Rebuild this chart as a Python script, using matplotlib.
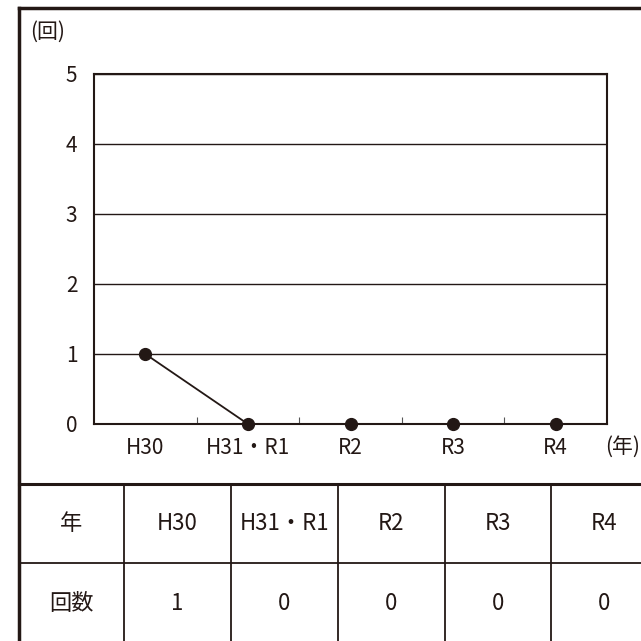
import matplotlib.pyplot as plt
from matplotlib.lines import Line2D

plt.rcParams['font.family'] = ['Noto Sans CJK JP', 'DejaVu Sans']

years = ['H30', 'H31・R1', 'R2', 'R3', 'R4']
counts = [1, 0, 0, 0, 0]
row_head = ['年', '回数']

ink = '#231815'
W = H = 641.0

fig = plt.figure(figsize=(6.41, 6.41), dpi=100)

def fx(px):
    return px / W

def fy(py):
    return 1 - py / H

# chart area
ax = fig.add_axes([fx(94), fy(424), fx(607) - fx(94), fy(74) - fy(424)])
x = list(range(len(years)))
ax.plot(x, counts, color=ink, lw=1.3, marker='o', ms=8.5, zorder=3, clip_on=False)
ax.set_xlim(-0.5, len(years) - 0.5)
ax.set_ylim(0, 5)
ax.set_yticks(range(6))
ax.yaxis.grid(True, color=ink, lw=1.0)
ax.set_axisbelow(True)
ax.tick_params(axis='y', length=0, pad=12, labelsize=15, colors=ink)
ax.set_xticks(x)
ax.set_xticklabels(years)
ax.tick_params(axis='x', length=0, pad=9, labelsize=15, colors=ink)
ax.set_xticks([i + 0.5 for i in range(len(years) - 1)], minor=True)
ax.tick_params(axis='x', which='minor', direction='in', length=5, width=0.8, color='#555555')
for s in ax.spines.values():
    s.set_color(ink)
    s.set_linewidth(1.5)

fig.text(fx(30), fy(32), '(回)', fontsize=15, color=ink, va='center', ha='left')
fig.text(fx(605), fy(447), '(年)', fontsize=15, color=ink, va='center', ha='left')

# outer frame
fig.add_artist(Line2D([fx(19), 1.05], [fy(7.5), fy(7.5)], color=ink, lw=2.5))
fig.add_artist(Line2D([fx(19), fx(19)], [fy(7.5), -0.05], color=ink, lw=2.5))

# table
fig.add_artist(Line2D([fx(19), 1.05], [fy(484), fy(484)], color=ink, lw=2.2))
fig.add_artist(Line2D([fx(19), 1.05], [fy(563), fy(563)], color=ink, lw=1.3))
col_edges = [19, 124, 231, 338, 445, 551, 657]
for e in col_edges[1:-1]:
    fig.add_artist(Line2D([fx(e), fx(e)], [fy(484), -0.05], color=ink, lw=1.3))

rows = [[row_head[0]] + years, [row_head[1]] + [str(c) for c in counts]]
row_y = [523, 604]
for r, cells in enumerate(rows):
    for c, txt in enumerate(cells):
        cx = (col_edges[c] + col_edges[c + 1]) / 2
        fig.text(fx(cx), fy(row_y[r]), txt, fontsize=16, color=ink,
                 ha='center', va='center')

fig.savefig('out.png', dpi=100)
